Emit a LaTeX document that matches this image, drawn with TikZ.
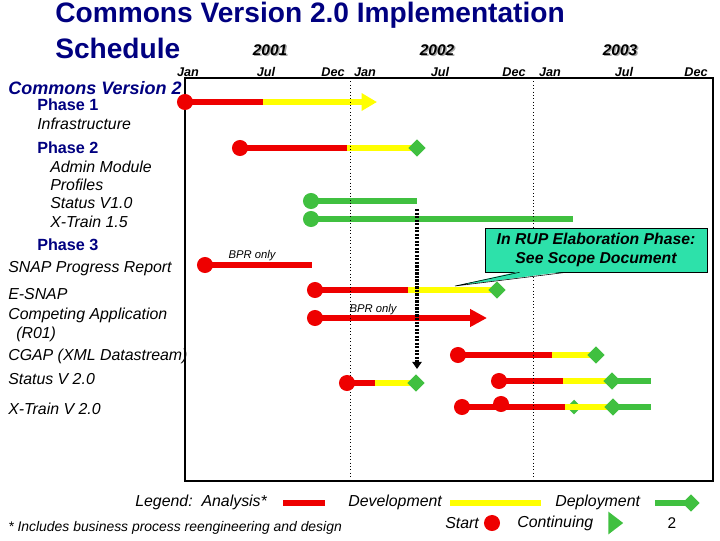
\documentclass[tikz,border=0pt]{standalone}
\usepackage{fontspec}
\setmainfont{Liberation Sans}
\usepackage{tikz}
\usetikzlibrary{shapes.geometric,arrows.meta,backgrounds,calc}

\definecolor{anared}{RGB}{238,0,0}
\definecolor{devyellow}{RGB}{255,255,0}
\definecolor{depgreen}{RGB}{64,192,64}
\definecolor{titleblue}{RGB}{0,0,128}
\definecolor{notecol}{RGB}{45,225,170}

\begin{document}
\begin{tikzpicture}[x=0.025cm,y=-0.025cm,
  every node/.style={font=\fontsize{11.3}{13}\selectfont\itshape, inner sep=0pt},
  lbl/.style={anchor=west},
  phase/.style={anchor=west, font=\fontsize{11.5}{13}\selectfont\bfseries, text=titleblue},
  month/.style={font=\fontsize{9}{10}\selectfont\bfseries\itshape},
  year/.style={font=\fontsize{11}{12}\selectfont\bfseries\itshape},
  small/.style={font=\fontsize{8}{9}\selectfont\itshape},
  bar/.style={line width=4.3pt},
  ana/.style={bar, draw=anared},
  dev/.style={bar, draw=devyellow},
  dep/.style={bar, draw=depgreen},
  startdot/.style={circle, fill=anared, minimum size=11.4pt},
  gostart/.style={circle, fill=depgreen, minimum size=11.4pt},
  donedot/.style={diamond, fill=depgreen, minimum size=12.5pt}]
\useasboundingbox (0,0) rectangle (720,540);

% Title
\node[anchor=west, font=\fontsize{20}{22}\selectfont\bfseries, text=titleblue]
  (title1) at (55,15) {Commons Version 2.0 Implementation};
\node[anchor=west, font=\fontsize{20}{22}\selectfont\bfseries, text=titleblue]
  (title2) at (55,48) {Schedule};

% Time axis
\foreach \x/\yr in {270/2001, 437/2002, 620/2003}{
  \node[year, text=gray!70] (ys\yr) at (\x+1.5,51.5) {\yr};
  \node[year] (y\yr) at (\x,50) {\yr};
}
\foreach \x/\m [count=\i] in {188/Jan, 266/Jul, 333/Dec, 365/Jan, 440/Jul,
  514/Dec, 550/Jan, 624/Jul, 696/Dec}{
  \node[month] (m\i) at (\x,72) {\m};
}

% Chart frame
\draw[line width=1pt] (185,78) rectangle (713,481);
\draw[dotted] (350,78) -- (350,481);
\draw[dotted] (533,78) -- (533,481);

% Row labels
\node[anchor=west, font=\fontsize{12.8}{14}\selectfont\bfseries\itshape, text=titleblue]
  (cv2) at (8,88) {Commons Version 2};
\node[phase] (ph1) at (37,105) {Phase 1};
\node[phase] (ph2) at (37,148) {Phase 2};
\node[phase] (ph3) at (37,245) {Phase 3};
\foreach \x/\y/\t [count=\i] in {
  37/124/Infrastructure,
  50/167/Admin Module,
  50/185/Profiles,
  50/203/Status V1.0,
  50/222/X-Train 1.5,
  8/269/SNAP Progress Report,
  8/294/E-SNAP,
  8/315/Competing Application,
  16/334/(R01),
  8/356/CGAP (XML Datastream),
  8/379/Status V 2.0,
  8/409/X-Train V 2.0}{
  \node[lbl] (row\i) at (\x,\y) {\t};
}

% Phase 1
\node[startdot] (infs) at (185,102) {};
\begin{scope}[on background layer]
  \draw[ana] (infs.center) -- (263,102);
  \draw[dev, -{Triangle[length=11pt,width=12pt]}] (263,102) -- (377,102);
\end{scope}

% Analysis - development - deployment rows
\foreach \nm/\y/\xs/\xr/\xd in {
  adm/148/240/347/417,
  esnap/290/315/408/497,
  cgap/355/458/552/596,
  stata/383/347/375/416}{
  \node[startdot] (\nm s) at (\xs,\y) {};
  \node[donedot] (\nm d) at (\xd,\y) {};
  \begin{scope}[on background layer]
    \draw[ana] (\nm s.center) -- (\xr,\y);
    \draw[dev] (\xr,\y) -- (\nm d.center);
  \end{scope}
}

% Rows still in deployment
\node[startdot] (statbs) at (499,381) {};
\node[donedot] (statbd) at (612,381) {};
\node[startdot] (xtrs) at (462,407) {};
\node[startdot] (xtrt) at (501,404) {};
\node[donedot] (xtrd) at (613,407) {};
\begin{scope}[on background layer]
  \draw[ana] (statbs.center) -- (563,381);
  \draw[dev] (563,381) -- (statbd.center);
  \draw[dep] (statbd.center) -- (651,381);
  \node[donedot, minimum size=10.5pt] (xtrm) at (574,407) {};
  \draw[ana] (xtrs.center) -- (565,407);
  \draw[dev] (565,407) -- (xtrd.center);
  \draw[dep] (xtrd.center) -- (651,407);
\end{scope}

% Deployment only
\node[gostart] (stv1) at (311,201) {};
\node[gostart] (xt15) at (311,219) {};
\begin{scope}[on background layer]
  \draw[dep] (stv1.center) -- (417,201);
  \draw[dep] (xt15.center) -- (573,219);
\end{scope}

% BPR only
\node[startdot] (snaps) at (205,265) {};
\node[small] (bpr1) at (252,256) {BPR only};
\node[startdot] (comps) at (315,318) {};
\node[small] (bpr2) at (373,310) {BPR only};
\begin{scope}[on background layer]
  \draw[ana] (snaps.center) -- (312,265);
  \draw[ana, -{Triangle[length=12pt,width=12pt]}] (comps.center) -- (487,318);
\end{scope}

% Dependency
\coordinate (dropa) at (417,209);
\coordinate (dropb) at (417,369);
\draw[line width=2.5pt, dash pattern=on 1.6pt off 0.9pt,
  -{Triangle[length=5pt,width=6.5pt]}] (dropa) -- (dropb);

% Note
\node[draw, fill=notecol, minimum width=158pt, minimum height=31.3pt, align=center,
  font=\fontsize{11.2}{13}\selectfont\bfseries\itshape]
  (note) at (596,250) {In RUP Elaboration Phase:\\See Scope Document};
\fill[notecol] ($(note.south west)+(35,-1)$) -- (455,286) -- ($(note.south west)+(82,-1)$) -- cycle;
\draw ($(note.south west)+(35,0)$) -- (455,286) -- ($(note.south west)+(82,0)$);

% Legend
\node[lbl] (leg) at (135,502) {Legend:\ \ Analysis*};
\draw[ana] (283,503) -- (325,503);
\node[lbl] (legdev) at (348,502) {Development};
\draw[dev] (450,503) -- (541,503);
\node[lbl] (legdep) at (555,502) {Deployment};
\node[donedot] (legdepd) at (691,503) {};
\begin{scope}[on background layer]
  \draw[dep] (655,503) -- (legdepd.center);
\end{scope}
\node[lbl] (legst) at (445,523) {Start};
\node[startdot] (legstd) at (492,523) {};
\node[lbl] (legco) at (517,523) {Continuing};
\node[isosceles triangle, isosceles triangle apex angle=75, fill=depgreen,
  minimum height=10.5pt] (legcod) at (614,523) {};
\node[font=\fontsize{11}{13}\selectfont] (pgno) at (672,523) {2};
\node[lbl, font=\fontsize{9.9}{11}\selectfont\itshape] (foot) at (8,528)
  {* Includes business process reengineering and design};
\end{tikzpicture}
\end{document}
